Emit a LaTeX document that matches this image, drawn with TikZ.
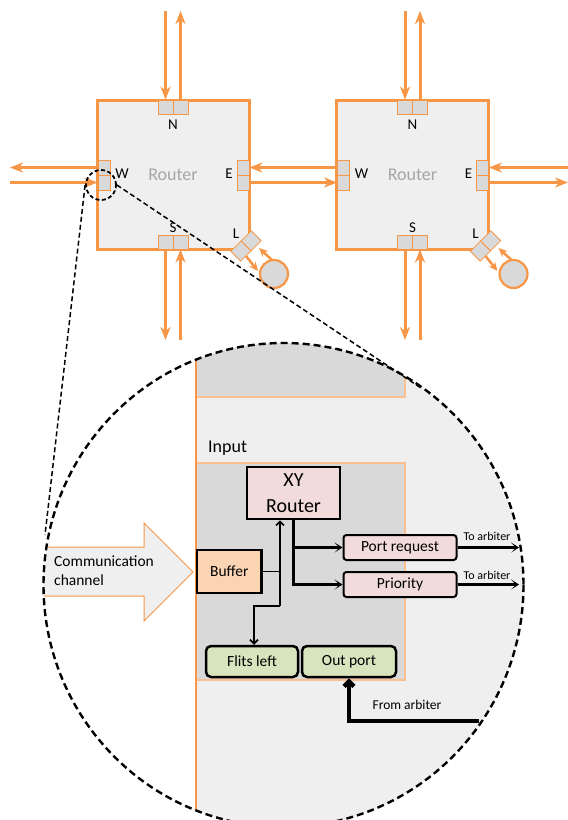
\documentclass[tikz,border=0pt]{standalone}
\usepackage{fontspec}
\setmainfont{Carlito}
\usetikzlibrary{arrows.meta,calc}
\definecolor{org}{HTML}{F79646}
\definecolor{lorg}{HTML}{FAC090}
\definecolor{rfill}{HTML}{EFEFEF}
\definecolor{pgray}{HTML}{D9D9D9}
\definecolor{pinkf}{HTML}{F2DCDB}
\definecolor{peach}{HTML}{FBD4B4}
\definecolor{lgreen}{HTML}{D7E4BD}
\definecolor{rtext}{HTML}{A6A6A6}
\newcommand\myfs[2]{\fontsize{#1}{#2}\selectfont}
\begin{document}
\begin{tikzpicture}[x=1pt,y=-1pt,
  oline/.style={draw=org, line width=3pt},
  otip/.style={-{Stealth[length=13pt,width=10pt,inset=4pt]}},
  stip/.style={-{Stealth[length=9pt,width=8pt,inset=3pt]}},
  port/.style={draw=org, line width=0.8pt, fill=pgray, inner sep=0pt},
  router/.style={draw=org, line width=3pt, fill=rfill, text=rtext, inner sep=0pt,
     minimum width=152pt, minimum height=149pt, font=\myfs{18}{21}},
  plabel/.style={font=\myfs{15}{18}, inner sep=0pt},
  btip/.style={-{Stealth[length=8pt,width=10pt,inset=5pt]}},
  ttip/.style={-{Straight Barb[length=4pt,width=8pt]}},
  blk/.style={draw=black, inner sep=0pt, font=\myfs{15.5}{19}},
  lensdash/.style={dash pattern=on 7pt off 4pt, line width=2.4pt},
  tandash/.style={dash pattern=on 5pt off 3pt, line width=1.5pt},
]
\useasboundingbox (0,0) rectangle (568,820);

% ---------- the two routers ----------
\foreach \i/\c in {1/173,2/412.5} {
  \node[router] (r\i) at (\c,174.5) {Router};
  \node[port, minimum width=15pt, minimum height=14pt] (na\i) at (\c-7.5,107) {};
  \node[port, minimum width=15pt, minimum height=14pt] (nb\i) at (\c+7.5,107) {};
  \node[port, minimum width=15pt, minimum height=14pt] (sa\i) at (\c-7.5,242) {};
  \node[port, minimum width=15pt, minimum height=14pt] (sb\i) at (\c+7.5,242) {};
  \node[port, minimum width=12pt, minimum height=15pt] (wa\i) at (\c-69,167.5) {};
  \node[port, minimum width=12pt, minimum height=15pt] (wb\i) at (\c-69,182.5) {};
  \node[port, minimum width=12pt, minimum height=15pt] (ea\i) at (\c+70,167.5) {};
  \node[port, minimum width=12pt, minimum height=15pt] (eb\i) at (\c+70,182.5) {};
  \node[port, rotate=45, minimum width=14.5pt, minimum height=14pt] (la\i) at (\c+78.1,240.9) {};
  \node[port, rotate=45, minimum width=14.5pt, minimum height=14pt] (lb\i) at (\c+67.9,251.1) {};
  \node[circle, draw=org, line width=2.2pt, fill=pgray, minimum size=28pt, inner sep=0pt] (pe\i) at (\c+101,274) {};
  \node[plabel] (nl\i) at (\c,125) {N};
  \node[plabel] (sl\i) at (\c,228) {S};
  \node[plabel] (wl\i) at (\c-51,174) {W};
  \node[plabel] (el\i) at (\c+56,174) {E};
  \node[plabel] (ll\i) at (\c+63,234) {L};
  % north / south links
  \coordinate (nt\i) at (\c-7.5,11);
  \coordinate (nu\i) at (\c+7.5,11);
  \coordinate (sd\i) at (\c-7.5,340);
  \coordinate (su\i) at (\c+7.5,340);
  \draw[oline,otip] (nt\i) -- (na\i.north);
  \draw[oline,otip] (nb\i.north) -- (nu\i);
  \draw[oline,otip] (sa\i.south) -- (sd\i);
  \draw[oline,otip] (su\i) -- (sb\i.south);
  % local links
  \coordinate (lo\i) at (\c+73,256);
  \coordinate (lt\i) at (\c+85,271);
  \coordinate (ls\i) at (\c+99,260);
  \coordinate (le\i) at (\c+86,248);
  \draw[oline,line width=2.5pt,stip] (lo\i) -- (lt\i);
  \draw[oline,line width=2.5pt,stip] (ls\i) -- (le\i);
}
% west / east links
\coordinate (wfar) at (10,167.5);
\coordinate (wfar2) at (10,182.5);
\coordinate (efar) at (568,167.5);
\coordinate (efar2) at (568,182.5);
\draw[oline,otip] (wa1.west) -- (wfar);
\draw[oline,otip] (wfar2) -- (wb1.west);
\draw[oline,otip] (wa2.west) -- (ea1.east);
\draw[oline,otip] (eb1.east) -- (wb2.west);
\draw[oline,otip] (efar) -- (ea2.east);
\draw[oline,otip] (eb2.east) -- (efar2);

% ---------- magnified view ----------
\begin{scope}
  \clip (283.5,585) ellipse [x radius=240, y radius=242];
  \fill[rfill] (196,300) rectangle (600,900);
  \fill[pgray] (196,300) rectangle (405,397);
  \draw[lorg, line width=1.2pt] (405,300) -- (405,397) -- (196,397);
  \fill[pgray] (196,463) rectangle (405,680);
  \draw[lorg, line width=1.2pt] (196,463) -- (405,463) -- (405,680) -- (196,680);
  \draw[org, line width=2pt] (196,300) -- (196,900);
  \draw[draw=org, line width=1pt, fill=rfill]
     (0,547) -- (144,547) -- (144,523) -- (193,572) -- (144,621) -- (144,596) -- (0,596) -- cycle;
\end{scope}

\node[anchor=west, align=left, inner sep=0pt, font=\myfs{15.5}{19}] (cc) at (54,571) {Communication\\channel};
\node[anchor=base west, inner sep=0pt, font=\myfs{18}{21}] (inp) at (208,452) {Input};

\node[blk, fill=pinkf, line width=2.5pt, minimum width=93pt, minimum height=52pt,
      align=center, font=\myfs{20}{26}] (xy) at (293.5,493) {XY\\Router};
\node[blk, fill=peach, line width=2.5pt, minimum width=64.5pt, minimum height=43pt] (buf) at (229.25,571.5) {Buffer};
\node[blk, fill=pinkf, line width=2pt, rounded corners=3pt, minimum width=113pt, minimum height=25pt] (preq) at (400,547.5) {Port request};
\node[blk, fill=pinkf, line width=2pt, rounded corners=3pt, minimum width=113pt, minimum height=25pt] (prio) at (400,584.5) {Priority};
\node[blk, fill=lgreen, line width=2.5pt, rounded corners=5pt, minimum width=92pt, minimum height=31pt] (fl) at (252,661.5) {Flits left};
\node[blk, fill=lgreen, line width=2.5pt, rounded corners=5pt, minimum width=94pt, minimum height=31pt] (op) at (349,661.5) {Out port};

% connectors
\draw[line width=2.6pt, btip] (xy.south) |- (preq.west);
\draw[line width=2.6pt, btip] (xy.south) |- (prio.west);
\coordinate (j1) at (280,606);
\coordinate (j2) at (254,606);
\draw[line width=1.6pt] (buf.east) -- (buf.east -| j1);
\draw[line width=1.6pt, ttip] (j1) -- (j1 |- xy.south);
\draw[line width=1.6pt, ttip] (j1) -- (j2) -- (j2 |- fl.north);
\coordinate (a1) at (519,547.5);
\coordinate (a2) at (519,584.5);
\draw[line width=2.2pt, btip] (preq.east) -- (a1);
\draw[line width=2.2pt, btip] (prio.east) -- (a2);
\node[inner sep=0pt, font=\myfs{12}{14}] (ta1) at (487,536) {To arbiter};
\node[inner sep=0pt, font=\myfs{12}{14}] (ta2) at (487,575) {To arbiter};
\coordinate (fa) at (479,721);
\draw[line width=4.5pt, {Straight Barb[length=5pt,width=10pt]}-] (op.south) |- (fa);
\node[inner sep=0pt, font=\myfs{13.5}{16}] (fal) at (407,705) {From arbiter};

% ---------- zoom markers ----------
\node[circle, draw, dash pattern=on 4pt off 2.5pt, line width=1.8pt, minimum size=30pt, inner sep=0pt] (zc) at (101,185) {};
\coordinate (tl) at (45,535);
\coordinate (tr) at (421,388);
\draw[tandash] (zc.west) -- (tl);
\draw[tandash] (zc.east) -- (tr);
\draw[lensdash] (283.5,585) ellipse [x radius=240, y radius=242];
\end{tikzpicture}
\end{document}
